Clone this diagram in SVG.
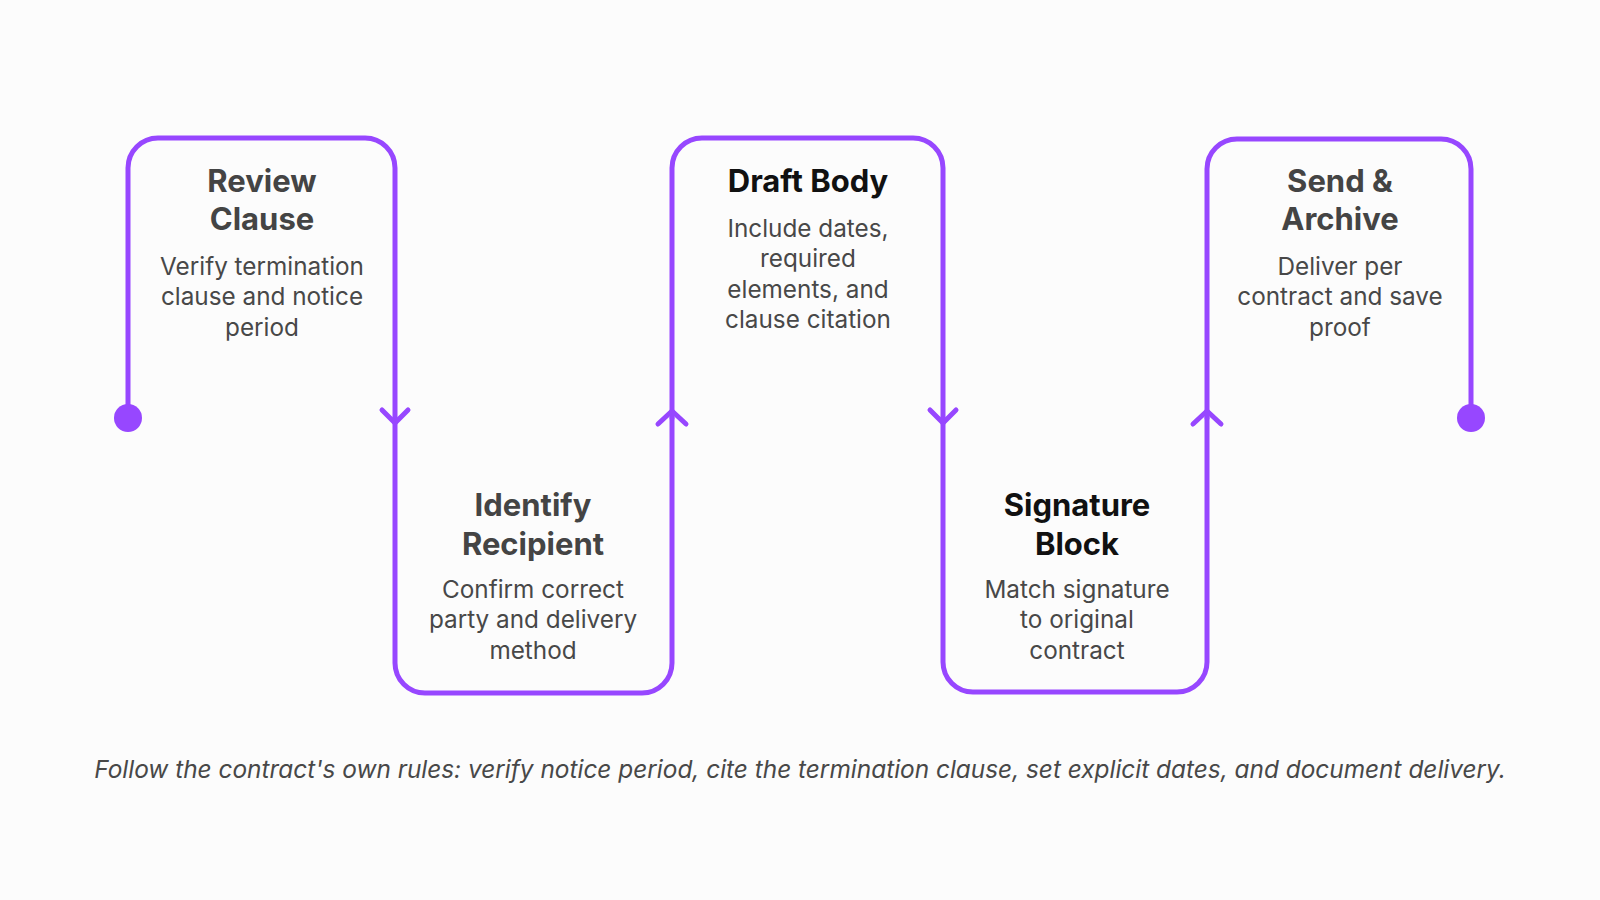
<svg xmlns="http://www.w3.org/2000/svg" width="1600" height="900" viewBox="0 0 1600 900">
<style>
.line{fill:none;stroke:#9747FF;stroke-width:5;stroke-linecap:round;stroke-linejoin:round}
.dot{fill:#9747FF}
.t{font-family:Inter,"Noto Sans","Liberation Sans",sans-serif;font-weight:700;font-size:31px;text-anchor:middle;fill:#444444}
.tk{fill:#111111}
.b{font-family:Inter,"Noto Sans","Liberation Sans",sans-serif;font-size:24.3px;text-anchor:middle;fill:#484848}
.f{font-family:Inter,"Noto Sans","Liberation Sans",sans-serif;font-style:italic;font-size:24.4px;text-anchor:middle;fill:#484848}
</style>
<rect width="1600" height="900" fill="#FCFCFC"/>
<g id="node-review">
<path class="line" d="M128 418 V168 A30 30 0 0 1 158 138 H365 A30 30 0 0 1 395 168 V418"/>
<circle class="dot" cx="128" cy="418" r="14"/>
<text class="t" x="262" y="192">Review</text>
<text class="t" x="262" y="230">Clause</text>
<text class="b" x="262" y="275">Verify termination</text>
<text class="b" x="262" y="305">clause and notice</text>
<text class="b" x="262" y="336">period</text>
</g>
<g id="node-identify">
<path class="line" d="M395 418 V663 A30 30 0 0 0 425 693 H642 A30 30 0 0 0 672 663 V418"/>
<text class="t" x="533" y="516">Identify</text>
<text class="t" x="533" y="555">Recipient</text>
<text class="b" x="533" y="598">Confirm correct</text>
<text class="b" x="533" y="628">party and delivery</text>
<text class="b" x="533" y="659">method</text>
</g>
<g id="node-draft">
<path class="line" d="M672 418 V168 A30 30 0 0 1 702 138 H913 A30 30 0 0 1 943 168 V418"/>
<text class="t tk" x="808" y="192">Draft Body</text>
<text class="b" x="808" y="237">Include dates,</text>
<text class="b" x="808" y="267">required</text>
<text class="b" x="808" y="298">elements, and</text>
<text class="b" x="808" y="328">clause citation</text>
</g>
<g id="node-signature">
<path class="line" d="M943 418 V662 A30 30 0 0 0 973 692 H1177 A30 30 0 0 0 1207 662 V418"/>
<text class="t tk" x="1077" y="516">Signature</text>
<text class="t tk" x="1077" y="555">Block</text>
<text class="b" x="1077" y="598">Match signature</text>
<text class="b" x="1077" y="628">to original</text>
<text class="b" x="1077" y="659">contract</text>
</g>
<g id="node-send">
<path class="line" d="M1207 418 V169 A30 30 0 0 1 1237 139 H1441 A30 30 0 0 1 1471 169 V418"/>
<circle class="dot" cx="1471" cy="418" r="14"/>
<text class="t" x="1340" y="192">Send &amp;</text>
<text class="t" x="1340" y="230">Archive</text>
<text class="b" x="1340" y="275">Deliver per</text>
<text class="b" x="1340" y="305">contract and save</text>
<text class="b" x="1340" y="336">proof</text>
</g>
<g id="connectors">
<polyline class="line" points="382,410 395,423 408,410"/>
<polyline class="line" points="658,424 672,411 686,424"/>
<polyline class="line" points="930,410 943,423 956,410"/>
<polyline class="line" points="1193,424 1207,411 1221,424"/>
</g>
<text class="f" x="800" y="778">Follow the contract's own rules: verify notice period, cite the termination clause, set explicit dates, and document delivery.</text>
</svg>
